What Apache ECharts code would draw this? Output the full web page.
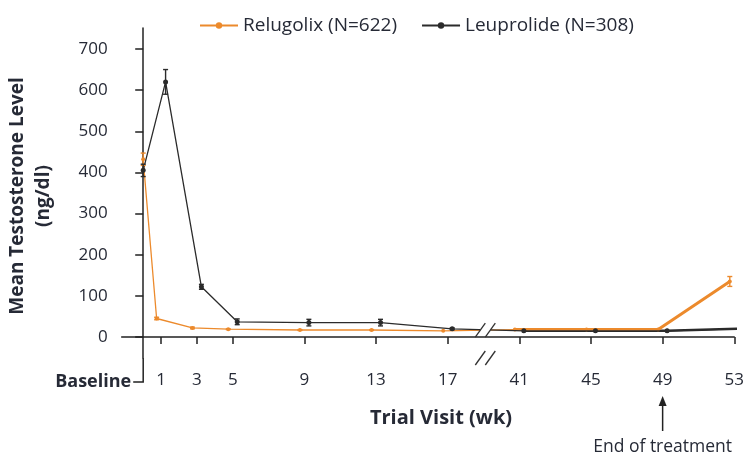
<!DOCTYPE html>
<html>
<head>
<meta charset="utf-8">
<script src="https://cdn.jsdelivr.net/npm/echarts@6/dist/echarts.min.js"></script>
<style>
html,body{margin:0;padding:0;background:#fff;}
#chart{width:747px;height:454px;}
</style>
</head>
<body>
<div id="chart"></div>
<script>
// ---- data ----
const weekLabels = ['Baseline','1','3','5','9','13','17','41','45','49','53'];
const weekNums = [0,1,3,5,9,13,17,41,45,49,53];
const relugolixMean = [432,45,22,19,17,17,15,18,18,18,135];
const relugolixErr  = [15,3,2,1,1,1,0,0,0,0,12];
const leuprolideMean = [405,620,122,37,35,35,20,15,15,15,20];
const leuprolideErr  = [15,30,6,7,8,8,2,0,0,0,0];
const yTickValues = [0,100,200,300,400,500,600,700];
const seriesNames = ['Relugolix (N=622)','Leuprolide (N=308)'];

// ---- axis break: weeks 18..40 are compressed ----
const BREAK_AFTER = 17, BREAK_SHIFT = 20;
function pos(w){ return w <= BREAK_AFTER ? w : w - BREAK_SHIFT; }
const DODGE = 0.25;
const ORANGE = '#EC8A2C', BLACK = '#2b2b2b';
const FONT = 'Open Sans';
const TXT = '#262a36';

function pts(mean, side){
  return weekNums.map((w,i)=>[pos(w) + (i===0?0:side*DODGE), mean[i]]);
}
function errs(mean, err, side){
  const out=[];
  weekNums.forEach((w,i)=>{ if(err[i]>0) out.push([pos(w)+(i===0?0:side*DODGE), mean[i]-err[i], mean[i]+err[i]]); });
  return out;
}
const labelMap = {};
weekNums.forEach((w,i)=>{ labelMap[pos(w)] = weekLabels[i]; });
const tickPos = weekNums.filter(w=>w>0).map(pos);

function errSeries(data, color){
  return {
    type:'custom', silent:true, z:5,
    data: data,
    renderItem: function(params, api){
      const x = api.value(0);
      const p1 = api.coord([x, api.value(2)]);
      const p2 = api.coord([x, api.value(1)]);
      const c = 2.5;
      const st = {stroke: color, lineWidth: 1.4};
      return {type:'group', children:[
        {type:'line', shape:{x1:p1[0],y1:p1[1],x2:p2[0],y2:p2[1]}, style:st},
        {type:'line', shape:{x1:p1[0]-c,y1:p1[1],x2:p1[0]+c,y2:p1[1]}, style:st},
        {type:'line', shape:{x1:p2[0]-c,y1:p2[1],x2:p2[0]+c,y2:p2[1]}, style:st}
      ]};
    }
  };
}

const relPts = pts(relugolixMean, -1);
const leuPts = pts(leuprolideMean, 1);
const chart = echarts.init(document.getElementById('chart'), null, {renderer:'canvas'});
chart.setOption({
  animation:false,
  textStyle:{fontFamily:FONT},
  grid:{left:121.7, right:10.3, top:28, bottom:96, containLabel:false},
  legend:{
    data: seriesNames, left:194, top:11, itemWidth:38, itemHeight:8, itemGap:24,
    textStyle:{fontFamily:FONT, fontSize:19, color:TXT}
  },
  xAxis:{
    type:'value', min:-1.2, max:33,
    splitLine:{show:false},
    axisLine:{lineStyle:{color:'#222', width:1.5}},
    axisTick:{customValues:tickPos, length:7, lineStyle:{color:'#222', width:1.5}},
    axisLabel:{customValues:tickPos, margin:14, fontSize:17, color:TXT, fontFamily:FONT,
      formatter:v=>labelMap[v]!==undefined?labelMap[v]:''}
  },
  yAxis:{
    type:'value', min:-51, max:751,
    splitLine:{show:false},
    axisLine:{show:true, lineStyle:{color:'#222', width:1.5}},
    axisTick:{show:true, customValues:yTickValues, length:8, lineStyle:{color:'#222', width:1.5}},
    axisLabel:{customValues:yTickValues, margin:14, fontSize:17, color:TXT, fontFamily:FONT}
  },
  series:[
    {name:seriesNames[0], type:'line', data:relPts, z:3,
      symbol:'circle', symbolSize:4, showSymbol:true,
      lineStyle:{color:ORANGE, width:1.3}, itemStyle:{color:ORANGE}},
    {name:seriesNames[1], type:'line', data:leuPts, z:4,
      symbol:'circle', symbolSize:5, showSymbol:true,
      lineStyle:{color:BLACK, width:1.3}, itemStyle:{color:BLACK}},
    {name:'relThick', type:'line', data:relPts.slice(7), z:3, symbol:'none',
      lineStyle:{color:ORANGE, width:3}},
    {name:'leuThick', type:'line', data:leuPts.slice(7), z:2, symbol:'circle', symbolSize:4, showSymbol:true,
      lineStyle:{color:BLACK, width:2.5}, itemStyle:{color:BLACK}},
    errSeries(errs(relugolixMean, relugolixErr, -1), ORANGE),
    errSeries(errs(leuprolideMean, leuprolideErr, 1), BLACK)
  ]
});

// ---- decorations positioned through the axes ----
const breakX = chart.convertToPixel({xAxisIndex:0}, pos(BREAK_AFTER) + 2.1);
const lineY = chart.convertToPixel({yAxisIndex:0}, (relugolixMean[6]+leuprolideMean[6]+relugolixMean[7]+leuprolideMean[7])/4);
const axisY = chart.convertToPixel({yAxisIndex:0}, -51);
const baseX = chart.convertToPixel({xAxisIndex:0}, pos(0));
const eotX = chart.convertToPixel({xAxisIndex:0}, pos(49));

function breakMark(cx, cy){
  const s = {stroke:'#333', lineWidth:1.3};
  return [
    {type:'rect', shape:{x:cx-5, y:cy-5, width:10, height:10}, style:{fill:'#fff'}, z:100},
    {type:'line', shape:{x1:cx-10, y1:cy+7, x2:cx, y2:cy-7}, style:s, z:101},
    {type:'line', shape:{x1:cx, y1:cy+7, x2:cx+10, y2:cy-7}, style:s, z:101}
  ];
}

chart.setOption({graphic:[
  ...breakMark(breakX, lineY),
  ...breakMark(breakX, axisY),
  {type:'polyline', shape:{points:[[baseX, axisY],[baseX, axisY+24],[baseX-10, axisY+24]]},
    style:{stroke:'#222', lineWidth:1.5, fill:null}, z:100},
  {type:'text', x:baseX-12, y:axisY+24, z:100,
    style:{text:'Baseline', font:'bold 18px "'+FONT+'"', fill:TXT, align:'right', verticalAlign:'middle'}},
  {type:'text', x:441, y:418, z:100,
    style:{text:'Trial Visit (wk)', font:'bold 20px "'+FONT+'"', fill:TXT, align:'center', verticalAlign:'middle'}},
  {type:'text', x:31, y:196, rotation:Math.PI/2, z:100,
    style:{text:'Mean Testosterone Level\n(ng/dl)', font:'bold 19px "'+FONT+'"', fill:TXT, align:'center', verticalAlign:'middle', lineHeight:26}},
  {type:'line', shape:{x1:eotX, y1:431, x2:eotX, y2:404}, style:{stroke:'#222', lineWidth:1.5}, z:100},
  {type:'polygon', shape:{points:[[eotX-4,406],[eotX+4,406],[eotX,396]]}, style:{fill:'#222'}, z:100},
  {type:'text', x:eotX, y:447, z:100,
    style:{text:'End of treatment', font:'17.5px "'+FONT+'"', fill:TXT, align:'center', verticalAlign:'middle'}}
]});
</script>
</body>
</html>
